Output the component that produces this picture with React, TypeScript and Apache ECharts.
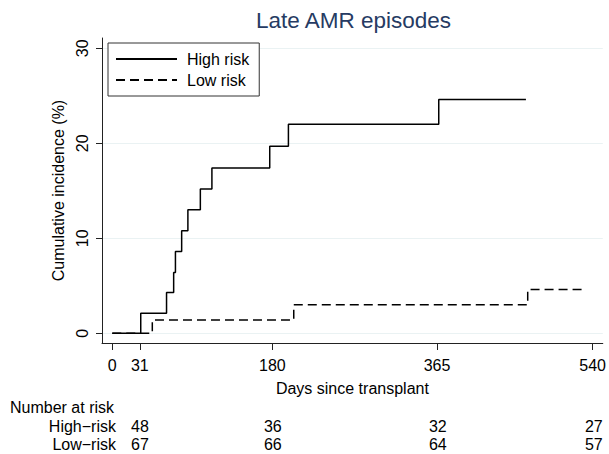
import React, { useEffect, useRef } from "react";
import * as echarts from "echarts";

// Data
const highDays = [0, 32, 61, 69, 71, 78, 85, 99, 112, 177, 198, 367, 465];
const highCI = [0, 2.1, 4.3, 6.4, 8.6, 10.8, 13.0, 15.2, 17.4, 19.7, 22.0, 24.6, 24.6];
const lowDays = [0, 45, 204, 467, 529];
const lowCI = [0, 1.4, 3.0, 4.6, 4.6];
const xTicks = [0, 31, 180, 365, 540];
const yTicks = [0, 10, 20, 30];
const riskDays = [31, 180, 365, 540];
const riskGroups = ["High−risk", "Low−risk"];
const highAtRisk = [48, 36, 32, 27];
const lowAtRisk = [67, 66, 64, 57];

const FONT = "'Liberation Sans', Arial, Helvetica, sans-serif";

export default function App() {
  const ref = useRef<HTMLDivElement>(null);
  useEffect(() => {
    if (!ref.current) return;
    const chart = echarts.init(ref.current, undefined, { renderer: "svg" });
    const highData = highDays.map((d, i) => [d, highCI[i]]);
    const lowData = lowDays.map((d, i) => [d, lowCI[i]]);
    const riskData: any[] = [];
    riskDays.forEach((d, i) => {
      riskData.push([d, riskGroups[0], highAtRisk[i]]);
      riskData.push([d, riskGroups[1], lowAtRisk[i]]);
    });
    chart.setOption({
      animation: false,
      backgroundColor: "#ffffff",
      textStyle: { fontFamily: FONT },
      title: [
        {
          text: "Late AMR episodes",
          left: 256,
          top: 7,
          padding: 0,
          textStyle: { fontSize: 22.5, fontWeight: "normal", color: "#263b63", fontFamily: FONT, lineHeight: 26 },
        },
        {
          text: "Number at risk",
          left: 10,
          top: 398,
          padding: 0,
          textStyle: { fontSize: 16, fontWeight: "normal", color: "#000", fontFamily: FONT, lineHeight: 18 },
        },
      ],
      legend: {
        data: ["High risk", "Low risk"],
        orient: "vertical",
        left: 108,
        top: 43,
        padding: [8, 10, 8, 7],
        itemWidth: 61,
        itemHeight: 14,
        itemGap: 5,
        borderWidth: 1,
        borderColor: "#333",
        backgroundColor: "#fff",
        itemStyle: { color: "rgba(0,0,0,0)", borderWidth: 0, opacity: 0 },
        textStyle: { fontSize: 16, color: "#000", fontFamily: FONT, padding: [0, 0, 0, 5] },
      },
      grid: [
        { left: 102, right: 5, top: 38, bottom: 111, containLabel: false },
        { left: 120, right: 5, top: 417, height: 36, containLabel: false },
      ],
      xAxis: [
        {
          type: "value",
          gridIndex: 0,
          min: -11.55,
          max: 551.4,
          axisLine: { show: true, onZero: false, lineStyle: { color: "#222", width: 1 } },
          axisTick: { show: true, length: 7, customValues: xTicks, lineStyle: { color: "#222" } },
          axisLabel: { customValues: xTicks, fontSize: 16, color: "#000", margin: 14, fontFamily: FONT },
          splitLine: { show: false },
          name: "Days since transplant",
          nameLocation: "middle",
          nameGap: 37,
          nameTextStyle: { fontSize: 16, color: "#000", fontFamily: FONT },
        },
        {
          type: "value",
          gridIndex: 1,
          min: 8.64,
          max: 551.4,
          show: false,
        },
      ],
      yAxis: [
        {
          type: "value",
          gridIndex: 0,
          min: -1.02,
          max: 31.08,
          axisLine: { show: true, onZero: false, lineStyle: { color: "#222", width: 1 } },
          axisTick: { show: true, length: 6, customValues: yTicks, lineStyle: { color: "#222" } },
          axisLabel: { customValues: yTicks, rotate: 90, fontSize: 16, color: "#000", margin: 12, fontFamily: FONT },
          splitLine: { show: true, lineStyle: { color: "#eaf2f3", width: 1 } },
          name: "Cumulative incidence (%)",
          nameLocation: "middle",
          nameGap: 29,
          nameTextStyle: { fontSize: 16, color: "#000", fontFamily: FONT },
        },
        {
          type: "category",
          gridIndex: 1,
          data: riskGroups,
          inverse: true,
          axisLine: { show: false },
          axisTick: { show: false },
          axisLabel: { interval: 0, fontSize: 16, color: "#000", margin: 4, fontFamily: FONT },
          splitLine: { show: false },
        },
      ],
      series: [
        {
          name: "High risk",
          type: "line",
          step: "end",
          xAxisIndex: 0,
          yAxisIndex: 0,
          data: highData,
          symbol: "none",
          lineStyle: { color: "#000", width: 1.5, type: "solid" },
          itemStyle: { color: "#000" },
        },
        {
          name: "Low risk",
          type: "line",
          step: "end",
          xAxisIndex: 0,
          yAxisIndex: 0,
          data: lowData,
          symbol: "none",
          lineStyle: { color: "#000", width: 1.5, type: [9, 5] },
          itemStyle: { color: "#000" },
        },
        {
          name: "atRisk",
          type: "scatter",
          xAxisIndex: 1,
          yAxisIndex: 1,
          data: riskData,
          symbolSize: 1,
          itemStyle: { color: "#ffffff", opacity: 1 },
          labelLayout: { hideOverlap: false },
          label: {
            show: true,
            position: "inside",
            formatter: (p: any) => String(p.value[2]),
            fontSize: 16,
            color: "#000000",
            opacity: 1,
            fontFamily: FONT,
          },
        },
      ],
    });
    return () => chart.dispose();
  }, []);
  return (
    <div
      ref={ref}
      style={{ position: "fixed", left: 0, top: 0, width: 609, height: 454 }}
    />
  );
}
